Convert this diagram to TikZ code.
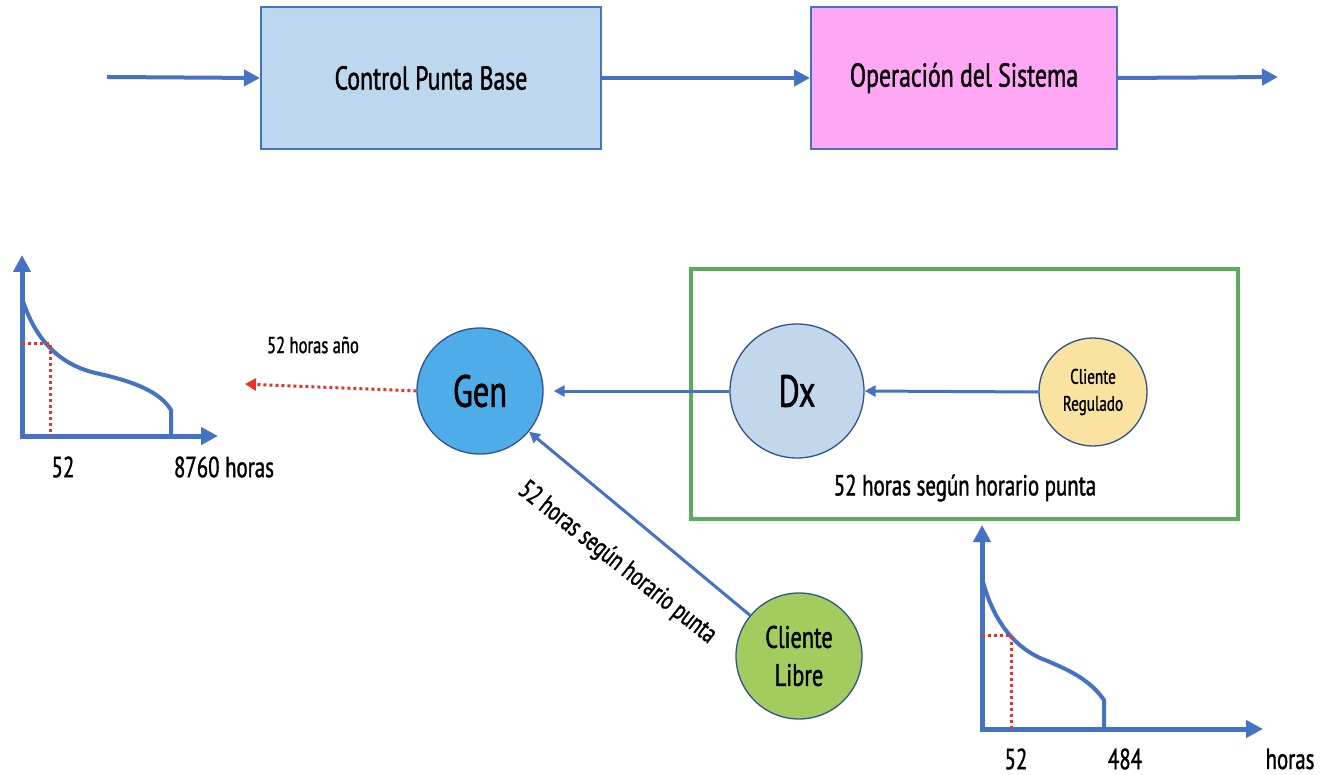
\documentclass[tikz,border=0pt]{standalone}
\usepackage{fontspec}
\setmainfont[FakeStretch=0.72,FakeBold=1.2]{PT Sans}
\usetikzlibrary{arrows.meta}
\definecolor{lineblue}{HTML}{4472C4}
\definecolor{darkblue}{HTML}{2F528F}
\definecolor{boxblue}{HTML}{BDD7EE}
\definecolor{boxpink}{HTML}{FFA6F5}
\definecolor{genblue}{HTML}{4EADE8}
\definecolor{dxblue}{HTML}{C2D6EC}
\definecolor{crgold}{HTML}{FAE3A0}
\definecolor{clgreen}{HTML}{A3CC5E}
\definecolor{framegreen}{HTML}{5BAD5B}
\definecolor{dotred}{HTML}{E8322B}
\tikzset{
  topbox/.style={draw=lineblue, line width=2pt, inner sep=0pt, font=\fontsize{33}{36}\selectfont},
  bigarrow/.style={draw=lineblue, line width=4pt, -{Triangle[length=16pt,width=16pt]}},
  conn/.style={draw=lineblue, line width=3pt, -{Triangle[length=11pt,width=11pt]}},
  bubble/.style={circle, draw=darkblue, line width=1.3pt, inner sep=0pt, align=center},
  axis/.style={draw=lineblue, line width=5pt, {Triangle[length=17pt,width=17pt]}-{Triangle[length=17pt,width=17pt]}},
  curve/.style={draw=lineblue, line width=4pt},
  reddot/.style={draw=dotred, line width=3pt, dash pattern=on 3pt off 3pt},
  lbl/.style={font=\fontsize{29}{32}\selectfont, inner sep=0pt},
}
\begin{document}
\begin{tikzpicture}[x=1pt,y=-1pt]
\useasboundingbox (0,0) rectangle (1324,775);
% top row
\node[topbox, fill=boxblue, minimum width=340pt, minimum height=142pt] (cpb) at (431,78) {Control Punta Base};
\node[topbox, fill=boxpink, minimum width=306pt, minimum height=142pt] (ops) at (964,78) {Operación del Sistema};
\coordinate (in) at (107,77);
\coordinate (out) at (1278,77);
\draw[bigarrow] (in) -- (cpb.west);
\draw[bigarrow] (cpb.east) -- (ops.west);
\draw[bigarrow] (ops.east) -- (out);
% green frame
\node[draw=framegreen, line width=4.5pt, minimum width=547pt, minimum height=250pt, inner sep=0pt] (frame) at (964.5,394) {};
% bubbles
\node[bubble, fill=genblue, minimum size=126pt, font=\fontsize{45}{46}\selectfont] (gen) at (480,391) {Gen};
\node[bubble, fill=dxblue, minimum size=134pt, font=\fontsize{45}{46}\selectfont] (dx) at (797,391) {Dx};
\node[bubble, fill=crgold, minimum size=108pt, font=\fontsize{21}{27}\selectfont] (cr) at (1093,392) {Cliente\\Regulado};
\node[bubble, fill=clgreen, minimum size=126pt, font=\fontsize{31}{38}\selectfont] (cl) at (799,656) {Cliente\\Libre};
\draw[conn] (dx.west) -- ([xshift=10pt]gen.east);
\draw[conn] (cr.west) -- (dx.east);
\draw[conn] (cl) -- (gen);
\node[lbl, font=\fontsize{27}{30}\selectfont, rotate=-38.3] (cllbl) at (617,563) {52 horas según horario punta};
\node[lbl] (framelbl) at (965,488) {52 horas según horario punta};
% red arrow
\coordinate (redend) at (245,384);
\draw[reddot, -{Triangle[length=11pt,width=12pt]}] (gen.west) -- (redend);
\node[lbl, font=\fontsize{23}{26}\selectfont] (yearlbl) at (313,345) {52 horas año};
% left graph
\draw[axis] (22,255) -- (22,436) -- (218,436);
\draw[curve] (22,298) .. controls (38,350) and (70,368) .. (100,374) .. controls (135,382) and (160,392) .. (171,410) -- (171,436);
\draw[reddot] (22,343) -- (50,343) -- (50,436);
\node[lbl] (l52) at (63,467) {52};
\node[lbl] (l8760) at (224,467) {8760 horas};
% right graph
\draw[axis] (982,525) -- (982,729) -- (1263,729);
\draw[curve] (982,578) .. controls (992,618) and (1012,645) .. (1040,658) .. controls (1070,670) and (1090,680) .. (1104,700) -- (1104,729);
\draw[reddot] (982,635) -- (1011,635) -- (1011,729);
\node[lbl] (r52) at (1016,759) {52};
\node[lbl] (r484) at (1125,759) {484};
\node[lbl] (rhoras) at (1290,759) {horas};
\end{tikzpicture}
\end{document}
